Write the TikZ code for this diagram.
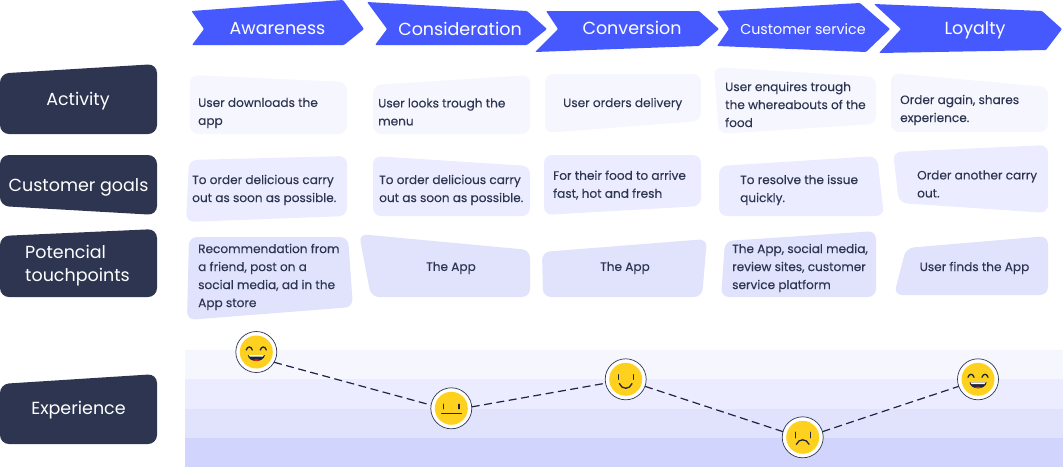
\documentclass[tikz,border=0pt]{standalone}
\usepackage{fontspec}
\setmainfont{Poppins}
\newfontfamily\bodyfont[FakeBold=0.2]{Poppins}
\definecolor{brandblue}{HTML}{4659FF}
\definecolor{navy}{HTML}{2D3550}
\definecolor{tintA}{HTML}{F6F6FF}
\definecolor{tintB}{HTML}{EBECFF}
\definecolor{tintC}{HTML}{E1E3FD}
\definecolor{tintD}{HTML}{D1D4FD}
\definecolor{sun}{HTML}{FFD11F}
\definecolor{ink}{HTML}{1F2440}
\tikzset{
  chev/.style={fill=brandblue,rounded corners=1pt},
  lab/.style={fill=navy,rounded corners=9pt},
  cardA/.style={fill=tintA,rounded corners=8pt},
  cardB/.style={fill=tintB,rounded corners=8pt},
  cardC/.style={fill=tintC,rounded corners=8pt},
  headtxt/.style={text=white,inner sep=0pt,font=\fontsize{17.5}{23}\selectfont},
  headsm/.style={text=white,inner sep=0pt,font=\fontsize{14.3}{20}\selectfont},
  labtxt/.style={text=white,inner sep=0pt,font=\fontsize{17.5}{23}\selectfont,align=left},
  body/.style={text=navy,inner sep=0pt,font=\bodyfont\fontsize{12.1}{18}\selectfont,align=left,anchor=west},
  bodyc/.style={text=navy,inner sep=0pt,font=\bodyfont\fontsize{12.1}{18}\selectfont},
  ring/.style={circle,draw=navy,line width=0.7pt,fill=white,minimum size=41pt,inner sep=0pt,outer sep=0pt},
  feat/.style={draw=ink,line width=1.3pt,line cap=round},
  link/.style={draw=ink,line width=1.2pt,dash pattern=on 8pt off 4.5pt},
  band/.style={draw=none},
  pics/facelaugh/.style={code={
    \fill[sun] (0,0) circle[radius=16.5];
    \draw[feat] (-10,-2) .. controls (-9,-6) and (-5,-6) .. (-4,-2);
    \draw[feat] (4,-2) .. controls (5,-6) and (9,-6) .. (10,-2);
    \fill[ink] (-8.5,3) -- (8.7,3) .. controls (8,7) and (4,9) .. (0,9) .. controls (-4,9) and (-8,7) .. (-8.5,3) -- cycle;
    \fill[white] (-7.5,3) -- (7.5,3) -- (6.5,4.7) -- (-6.5,4.7) -- cycle;
    \fill[red!75!orange] (-3.5,8.2) .. controls (-2,7) and (2,7) .. (3.5,8.2) .. controls (1.5,9.2) and (-1.5,9.2) .. (-3.5,8.2) -- cycle;
  }},
  pics/faceflat/.style={code={
    \fill[sun] (0,0) circle[radius=16.5];
    \draw[feat] (-7.7,-4) -- (-7.7,0.5);
    \draw[feat] (7.7,-4) -- (7.7,0.5);
    \draw[feat,line width=1pt] (-9.7,5) -- (10,5);
  }},
  pics/facejoy/.style={code={
    \fill[sun] (0,0) circle[radius=16.5];
    \draw[feat] (-7.5,-4.5) -- (-7.5,0);
    \draw[feat] (7.5,-4.5) -- (7.5,0);
    \draw[feat] (-6.3,4.3) .. controls (-4,10.5) and (4,10.5) .. (6.3,4.3);
  }},
  pics/facesad/.style={code={
    \fill[sun] (0,0) circle[radius=16.5];
    \draw[feat] (-7.5,-5) -- (-7.5,0.5);
    \draw[feat] (7.5,-5) -- (7.5,0.5);
    \draw[feat] (-6.3,7) .. controls (-4,1) and (4,1) .. (6.3,7);
  }},
}
\begin{document}
\begin{tikzpicture}[x=1pt,y=-1pt]
\useasboundingbox (0,0) rectangle (1063,467);
% chevrons
\fill[chev] (191.5,11) -- (343,0) -- (364,29) -- (344,45) -- (192,45) -- (204,29) -- cycle;
\fill[chev] (367,2) -- (527,11) -- (547,29) -- (527,45) -- (375,45) -- (387,29) -- cycle;
\fill[chev] (546,11) -- (699,11) -- (719,29) -- (699,46) -- (535,52) -- (558,29) -- cycle;
\fill[chev] (717,11) -- (860,3) -- (890,29) -- (866,52) -- (717,46) -- (729,29) -- cycle;
\fill[chev] (874,4) -- (1042,11) -- (1062,29) -- (1046,50) -- (879,53) -- (901,29) -- cycle;
\node[headtxt] (hAware) at (277.5,28.5) {Awareness};
\node[headtxt] (hConsid) at (460,28.5) {Consideration};
\node[headtxt] (hConv) at (632,28) {Conversion};
\node[headsm] (hServ) at (803,29) {Customer service};
\node[headtxt] (hLoyal) at (975,30) {Loyalty};
% row labels
\fill[lab] (0,73.5) -- (157,64) -- (157,134) -- (0,134) -- cycle;
\fill[lab] (0,155) -- (157,155) -- (157,215) -- (0,206) -- cycle;
\fill[lab] (0,236) -- (157,229) -- (157,297) -- (0,297) -- cycle;
\fill[lab] (0,384) -- (157,374) -- (157,444) -- (0,444) -- cycle;
\node[labtxt] (lActivity) at (78,101) {Activity};
\node[labtxt] (lGoals) at (78.5,187.5) {Customer goals};
\node[labtxt,anchor=west] (lTouch) at (25,266) {Potencial\\touchpoints};
\node[labtxt] (lExp) at (78.5,410) {Experience};
% row 1
\fill[cardA] (190,75) -- (347,82) -- (347,134) -- (190,134) -- cycle;
\fill[cardA] (373,85) -- (530,75) -- (530,134) -- (373,134) -- cycle;
\fill[cardA] (545,74) -- (701,74) -- (701,121) -- (545,133) -- cycle;
\fill[cardA] (714,67) -- (876,77) -- (876,124) -- (719,134) -- cycle;
\fill[cardA] (891,73) -- (1048,87) -- (1048,132) -- (891,132) -- cycle;
\node[body] (a1) at (198,113) {User downloads the\\app};
\node[body] (a2) at (378,112) {User looks trough the\\menu};
\node[body] (a3) at (563,104) {User orders delivery};
\node[body] (a4) at (725,104.5) {User enquires trough\\the whereabouts of the\\food};
\node[body] (a5) at (900,110) {Order again, shares\\experience.};
% row 2
\fill[cardB] (189,160) -- (347,156) -- (347,216) -- (186,222) -- cycle;
\fill[cardB] (373,156) -- (530,166) -- (530,216) -- (373,216) -- cycle;
\fill[cardB] (544,155) -- (701,155) -- (701,206) -- (544,215) -- cycle;
\fill[cardB] (719,166) -- (877,156) -- (884,216) -- (719,216) -- cycle;
\fill[cardB] (893,152) -- (1048,145) -- (1048,213) -- (899,203) -- cycle;
\node[body] (g1) at (192,190) {To order delicious carry\\out as soon as possible.};
\node[body] (g2) at (379,190) {To order delicious carry\\out as soon as possible.};
\node[body] (g3) at (553,185) {For their food to arrive\\fast, hot and fresh};
\node[body] (g4) at (740,190) {To resolve the issue\\quickly.};
\node[body] (g5) at (917,184) {Order another carry\\out.};
% row 3
\fill[cardC] (189,237) -- (348,237) -- (353,307) -- (187,320) -- cycle;
\fill[cardC] (359,234) -- (530,250) -- (530,297) -- (371,297) -- cycle;
\fill[cardC] (542,252) -- (707,239) -- (702,297) -- (543,297) -- cycle;
\fill[cardC] (725,241) -- (876,231) -- (876,297) -- (721,297) -- cycle;
\fill[cardC] (906,248) -- (1048,236) -- (1048,295) -- (894,295) -- cycle;
\node[body] (t1) at (198,277) {Recommendation from\\a friend, post on a\\social media, ad in the\\App store};
\node[bodyc] (t2) at (451,268) {The App};
\node[bodyc] (t3) at (625,268) {The App};
\node[body] (t4) at (732,268) {The App, social media,\\review sites, customer\\service platform};
\node[bodyc] (t5) at (974.5,268) {User finds the App};
% bands
\fill[tintA,band] (185,350) rectangle (1063,379);
\fill[tintB,band] (185,379) rectangle (1063,408.5);
\fill[tintC,band] (185,408.5) rectangle (1063,437.5);
\fill[tintD,band] (185,437.5) rectangle (1063,466.5);
% faces
\node[ring] (f1) at (256.3,352) {};
\node[ring] (f2) at (451.3,408.3) {};
\node[ring] (f3) at (625.7,379.3) {};
\node[ring] (f4) at (802.7,437.3) {};
\node[ring] (f5) at (978,379.3) {};
\pic at (f1) {facelaugh};
\pic at (f2) {faceflat};
\pic at (f3) {facejoy};
\pic at (f4) {facesad};
\pic at (f5) {facelaugh};
\draw[link] (f1.-30) -- (f2.171);
\draw[link] (f2.4) -- (f3.191);
\draw[link] (f3.-20) -- (f4.164);
\draw[link] (f4.16) -- (f5.200);
\end{tikzpicture}
\end{document}
